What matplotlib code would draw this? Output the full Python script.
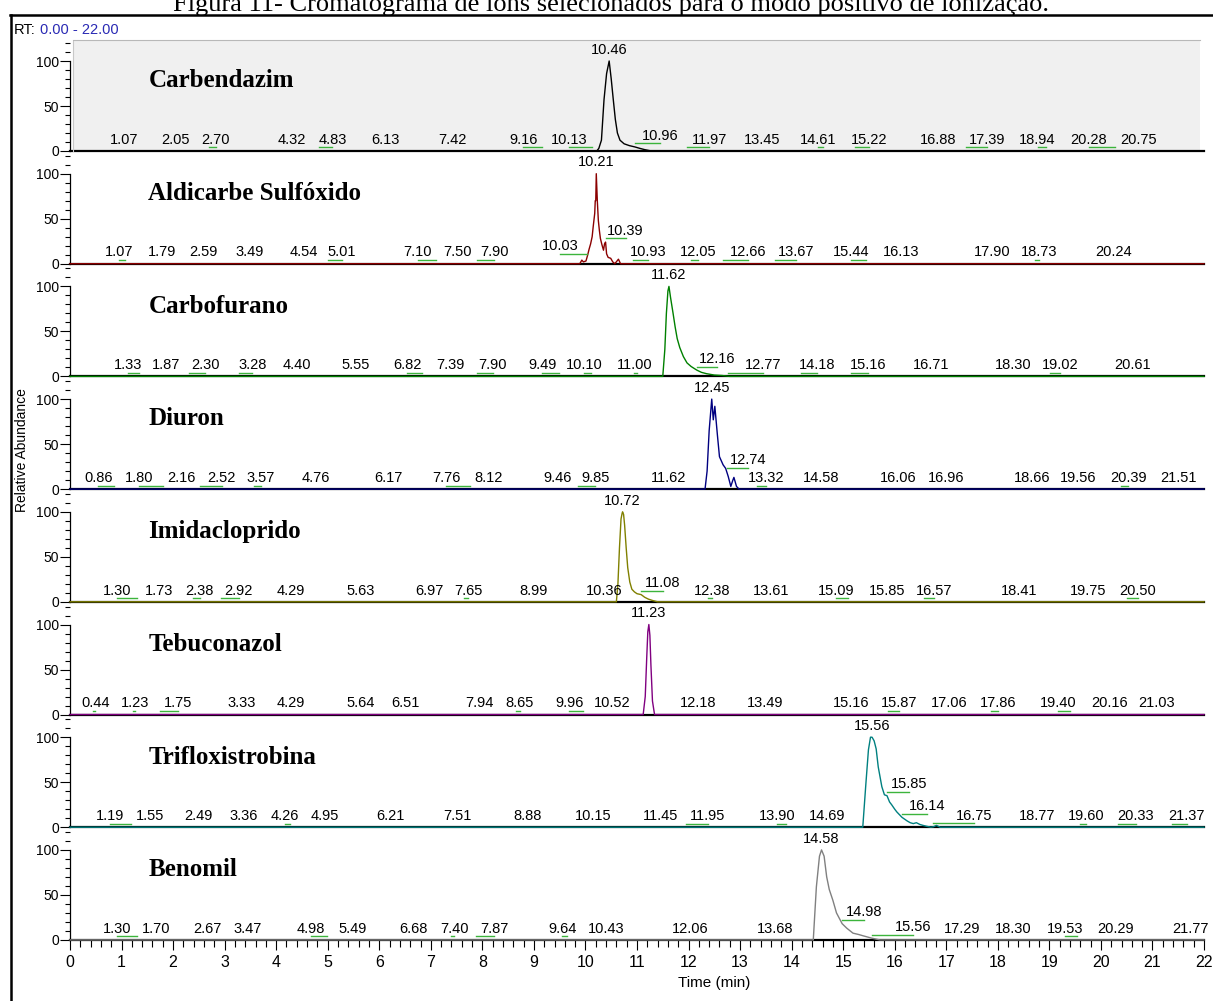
import numpy as np
import matplotlib
matplotlib.use("Agg")
import matplotlib.pyplot as plt
from matplotlib.lines import Line2D
from matplotlib.patches import Rectangle
from matplotlib.ticker import MultipleLocator

# --- dados dos cromatogramas (tempo em min, abundância relativa em %) ---
names = ["Carbendazim", "Aldicarbe Sulfóxido", "Carbofurano", "Diuron",
         "Imidacloprido", "Tebuconazol", "Trifloxistrobina", "Benomil"]
colors = ["#000000", "#8b0000", "#008000", "#000080",
          "#808000", "#800080", "#008080", "#808080"]

carbendazim_t = [0, 10.22, 10.26, 10.31, 10.36, 10.41, 10.46, 10.50, 10.54, 10.58,
                 10.62, 10.67, 10.75, 10.85, 10.96, 11.05, 11.15, 11.28, 22]
carbendazim_i = [0, 0, 3, 12, 57, 86, 100, 80, 57, 35, 20, 12, 8, 6, 4.5, 3, 1.5, 0, 0]
carbendazim_rt = [1.07, 2.05, 2.70, 4.32, 4.83, 6.13, 7.42, 9.16, 10.13, 10.46, 10.96,
                  11.97, 13.45, 14.61, 15.22, 16.88, 17.39, 18.94, 20.28, 20.75]

aldicarbe_t = [0, 9.89, 9.93, 9.96, 10.01, 10.04, 10.07, 10.10, 10.13, 10.15, 10.18,
               10.19, 10.20, 10.21, 10.23, 10.25, 10.27, 10.29, 10.32, 10.35, 10.37,
               10.39, 10.41, 10.44, 10.49, 10.53, 10.57, 10.64, 10.68, 22]
aldicarbe_i = [0, 0, 4, 2, 3, 9, 16, 22, 30, 41, 56, 70, 70, 100, 70, 48, 37, 28, 21,
               15, 22, 24, 11, 7, 6, 2, 0, 5, 0, 0]
aldicarbe_rt = [1.07, 1.79, 2.59, 3.49, 4.54, 5.01, 7.10, 7.50, 7.90, 10.03, 10.21, 10.39,
                10.93, 12.05, 12.66, 13.67, 15.44, 16.13, 17.90, 18.73, 20.24]

carbofurano_t = [0, 11.50, 11.54, 11.57, 11.60, 11.62, 11.65, 11.70, 11.74, 11.78, 11.83,
                 11.90, 11.97, 12.05, 12.16, 12.25, 12.35, 12.50, 12.65, 12.80, 22]
carbofurano_i = [0, 0, 30, 70, 95, 100, 88, 70, 55, 42, 32, 22, 15, 11, 7, 4.5, 3, 1.5,
                 1, 0, 0]
carbofurano_rt = [1.33, 1.87, 2.30, 3.28, 4.40, 5.55, 6.82, 7.39, 7.90, 9.49, 10.10, 11.00,
                  11.62, 12.16, 12.77, 14.18, 15.16, 16.71, 18.30, 19.02, 20.61]

diuron_t = [0, 12.32, 12.36, 12.40, 12.45, 12.48, 12.51, 12.56, 12.60, 12.67, 12.72,
            12.77, 12.82, 12.86, 12.88, 12.93, 12.98, 22]
diuron_i = [0, 0, 20, 65, 100, 77, 92, 60, 36, 27, 23, 14, 3, 10, 13, 3, 0, 0]
diuron_rt = [0.86, 1.80, 2.16, 2.52, 3.57, 4.76, 6.17, 7.76, 8.12, 9.46, 9.85, 11.62, 12.45,
             12.74, 13.32, 14.58, 16.06, 16.96, 18.66, 19.56, 20.39, 21.51]

imidacloprido_t = [0, 10.60, 10.63, 10.66, 10.69, 10.71, 10.72, 10.74, 10.76, 10.79, 10.82,
                   10.86, 10.90, 10.95, 11.00, 11.08, 11.15, 11.22, 11.30, 11.40, 22]
imidacloprido_i = [0, 0, 20, 60, 92, 98, 100, 97, 85, 60, 38, 22, 14, 11, 9, 8, 5, 3,
                   1.5, 0, 0]
imidacloprido_rt = [1.30, 1.73, 2.38, 2.92, 4.29, 5.63, 6.97, 7.65, 8.99, 10.36, 10.72,
                    11.08, 12.38, 13.61, 15.09, 15.85, 16.57, 18.41, 19.75, 20.50]

tebuconazol_t = [0, 11.12, 11.16, 11.19, 11.21, 11.23, 11.25, 11.27, 11.30, 11.34, 22]
tebuconazol_i = [0, 0, 20, 65, 92, 100, 88, 55, 15, 0, 0]
tebuconazol_rt = [0.44, 1.23, 1.75, 3.33, 4.29, 5.64, 6.51, 7.94, 8.65, 9.96, 10.52, 11.23,
                  12.18, 13.49, 15.16, 15.87, 17.06, 17.86, 19.40, 20.16, 21.03]

trifloxistrobina_t = [0, 15.38, 15.44, 15.49, 15.53, 15.56, 15.60, 15.64, 15.68, 15.75,
                      15.80, 15.85, 15.90, 15.94, 16.00, 16.04, 16.09, 16.14, 16.19, 16.24,
                      16.30, 16.36, 16.42, 16.49, 16.55, 16.62, 16.70, 16.75, 16.81, 16.88, 22]
trifloxistrobina_i = [0, 0, 48, 86, 100, 100, 96, 87, 67, 45, 36, 35, 28, 25, 20, 17, 14,
                      11, 9, 7, 5, 4, 5, 3, 2, 1, 0, 0.5, 2, 0, 0]
trifloxistrobina_rt = [1.19, 1.55, 2.49, 3.36, 4.26, 4.95, 6.21, 7.51, 8.88, 10.15, 11.45,
                       11.95, 13.90, 14.69, 15.56, 15.85, 16.14, 16.75, 18.77, 19.60,
                       20.33, 21.37]

benomil_t = [0, 14.42, 14.48, 14.54, 14.58, 14.63, 14.68, 14.73, 14.80, 14.87, 14.98,
             15.07, 15.19, 15.30, 15.39, 15.55, 15.71, 22]
benomil_i = [0, 0, 59, 93, 100, 93, 70, 56, 44, 30, 18, 13, 7.5, 6, 4.5, 2, 0, 0]
benomil_rt = [1.30, 1.70, 2.67, 3.47, 4.98, 5.49, 6.68, 7.40, 7.87, 9.64, 10.43, 12.06,
              13.68, 14.58, 14.98, 15.56, 17.29, 18.30, 19.53, 20.29, 21.77]

# posição (min) onde cada rótulo foi escrito; difere do RT quando há linha-guia
carbendazim_lx = [1.05, 2.05, 2.83, 4.30, 5.09, 6.11, 7.41, 8.79, 9.68, 10.46, 11.45,
                  12.40, 13.43, 14.52, 15.50, 16.85, 17.79, 18.77, 19.77, 20.74]
aldicarbe_lx = [0.95, 1.79, 2.59, 3.49, 4.54, 5.28, 6.75, 7.52, 8.23, 9.51, 10.21, 10.78,
                11.22, 12.19, 13.16, 14.09, 15.15, 16.13, 17.90, 18.80, 20.24]
carbofurano_lx = [1.12, 1.87, 2.62, 3.54, 4.40, 5.55, 6.54, 7.39, 8.20, 9.16, 9.97, 10.95,
                  11.62, 12.55, 13.44, 14.50, 15.48, 16.71, 18.30, 19.21, 20.61]
diuron_lx = [0.55, 1.34, 2.16, 2.94, 3.70, 4.76, 6.17, 7.30, 8.12, 9.46, 10.19, 11.62,
             12.45, 13.15, 13.51, 14.58, 16.06, 17.00, 18.66, 19.56, 20.53, 21.51]
imidacloprido_lx = [0.92, 1.73, 2.52, 3.27, 4.29, 5.63, 6.97, 7.73, 8.99, 10.36, 10.72,
                    11.50, 12.45, 13.61, 14.86, 15.85, 16.76, 18.41, 19.75, 20.72]
tebuconazol_lx = [0.49, 1.27, 2.09, 3.33, 4.29, 5.64, 6.51, 7.94, 8.73, 9.69, 10.52, 11.23,
                  12.18, 13.49, 15.16, 16.08, 17.06, 18.00, 19.17, 20.16, 21.07]
trifloxistrobina_lx = [0.78, 1.55, 2.49, 3.36, 4.17, 4.95, 6.21, 7.51, 8.88, 10.15, 11.45,
                       12.37, 13.72, 14.69, 15.56, 16.28, 16.62, 17.54, 18.77, 19.72,
                       20.68, 21.67]
benomil_lx = [0.91, 1.68, 2.67, 3.45, 4.68, 5.49, 6.66, 7.45, 8.23, 9.55, 10.41, 12.04,
              13.67, 14.58, 15.40, 16.36, 17.30, 18.30, 19.30, 20.28, 21.73]

traces = [
    (carbendazim_t, carbendazim_i, carbendazim_rt, carbendazim_lx),
    (aldicarbe_t, aldicarbe_i, aldicarbe_rt, aldicarbe_lx),
    (carbofurano_t, carbofurano_i, carbofurano_rt, carbofurano_lx),
    (diuron_t, diuron_i, diuron_rt, diuron_lx),
    (imidacloprido_t, imidacloprido_i, imidacloprido_rt, imidacloprido_lx),
    (tebuconazol_t, tebuconazol_i, tebuconazol_rt, tebuconazol_lx),
    (trifloxistrobina_t, trifloxistrobina_i, trifloxistrobina_rt, trifloxistrobina_lx),
    (benomil_t, benomil_i, benomil_rt, benomil_lx),
]

SANS = ["Liberation Sans", "DejaVu Sans"]
SERIF = ["Liberation Serif", "DejaVu Serif"]
plt.rcParams["font.family"] = SANS

W, H = 1213, 1001
X0, X1 = 70, 1204          # pixels de t=0 e t=22
BASE0, STEP = 151, 112.7   # linha zero do 1o painel e espaçamento
YTOP = STEP / 0.9          # 100 % ocupa 90 px

fig = plt.figure(figsize=(W / 100, H / 100), dpi=100)


def px(x, y):
    return x / W, 1 - y / H


# moldura externa e título (cortado no topo da página)
fig.add_artist(Line2D([10 / W, 1], [1 - 15 / H] * 2, color="black", lw=1.8))
fig.add_artist(Line2D([11 / W] * 2, [0, 1 - 15 / H], color="black", lw=1.8))
fig.text(*px(611, 11), "Figura 11- Cromatograma de íons selecionados para o modo "
         "positivo de ionização.", ha="center", va="baseline", fontsize=19, family=SERIF)

# fundo cinza do painel selecionado
fig.add_artist(Rectangle(px(73, 151), (1200 - 73) / W, (151 - 40) / H,
                         facecolor="#f0f0f0", edgecolor="none", zorder=0))
fig.add_artist(Line2D([73 / W, 1200 / W], [1 - 40 / H] * 2, color="#b8b8b8", lw=0.8))
fig.add_artist(Line2D([73 / W] * 2, [1 - 151 / H, 1 - 41 / H], color="#c8c8c8", lw=0.8))

fig.text(*px(14, 30), "RT:", ha="left", va="center", fontsize=10.5)
fig.text(*px(40, 30), "0.00 - 22.00", ha="left", va="center", fontsize=10.5,
         color="#2a2ab4")
fig.text(*px(22, 450), "Relative Abundance", rotation=90, ha="center", va="center",
         fontsize=10)

for k, (name, color, (t, inten, rts, lxs)) in enumerate(zip(names, colors, traces)):
    base = BASE0 + k * STEP
    ax = fig.add_axes([X0 / W, 1 - base / H, (X1 - X0) / W, STEP / H])
    ax.patch.set_visible(False)
    ax.set_xlim(0, 22)
    ax.set_ylim(0, YTOP)
    for s in ("top", "right"):
        ax.spines[s].set_visible(False)
    ax.spines["left"].set_bounds(0, 100)
    ax.spines["left"].set_linewidth(0.9)
    ax.spines["bottom"].set_linewidth(1.6)

    ax.set_yticks([0, 50, 100])
    ax.yaxis.set_minor_locator(MultipleLocator(10))
    ax.tick_params(axis="y", which="major", length=7, width=0.8, pad=1, labelsize=10)
    ax.tick_params(axis="y", which="minor", length=3.6, width=0.8)

    if k == len(names) - 1:
        ax.xaxis.set_major_locator(MultipleLocator(1))
        ax.xaxis.set_minor_locator(MultipleLocator(0.2))
        ax.tick_params(axis="x", which="major", length=7.2, width=0.8, pad=3.5,
                       labelsize=11.5)
        ax.tick_params(axis="x", which="minor", length=4.8, width=0.8)
    else:
        ax.tick_params(axis="x", which="both", bottom=False, labelbottom=False)

    ax.plot(t, inten, color=color, lw=1.0, zorder=3, clip_on=False)

    ax.text(1.52, 78, name, fontsize=18, fontweight="bold", family=SERIF,
            ha="left", va="center")

    for rt, lx in zip(rts, lxs):
        top = np.interp(rt, t, inten)
        ax.text(lx, top + 12.5, f"{rt:.2f}", ha="center", va="center",
                fontsize=10.5, clip_on=False, zorder=4)
        if abs(lx - rt) > 0.04:
            ax.plot([rt, lx], [top + 4, top + 4], color="#3cb43c", lw=1.0,
                    zorder=4, clip_on=False)

fig.text(*px(714, 983), "Time (min)", ha="center", va="center", fontsize=11)

fig.savefig("out.png", dpi=100)
